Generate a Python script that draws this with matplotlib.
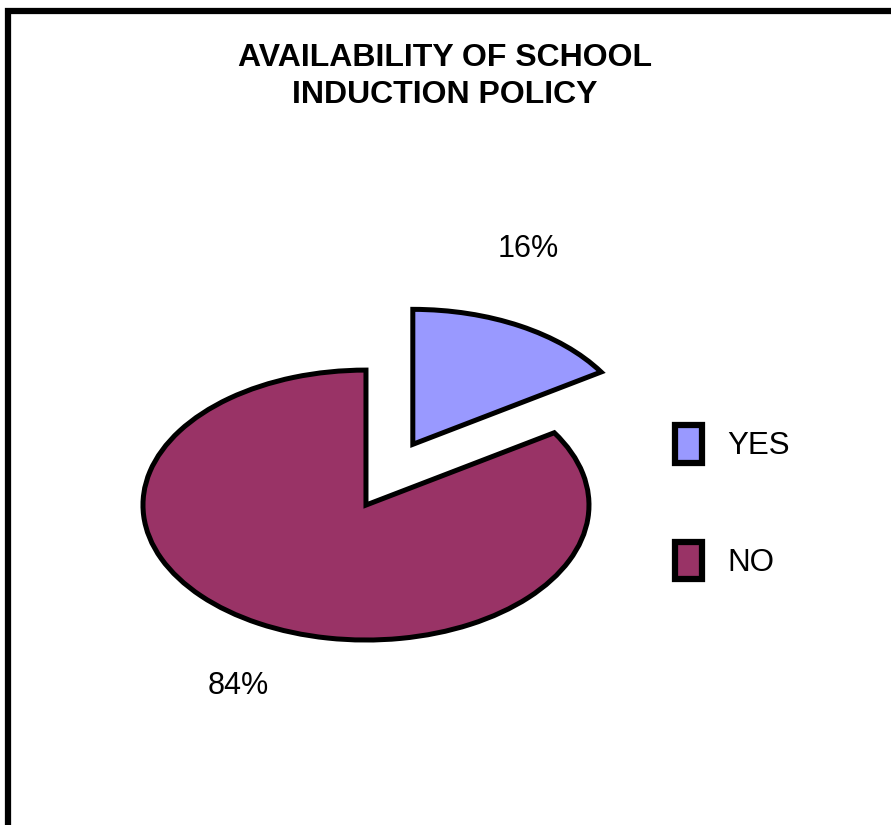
import matplotlib
matplotlib.use("Agg")
import matplotlib.pyplot as plt
from matplotlib.patches import Rectangle

# Data
categories = ["YES", "NO"]
values = [16, 84]
colors = ["#9999FF", "#993366"]

plt.rcParams['font.family'] = ['Liberation Sans', 'DejaVu Sans']

fig = plt.figure(figsize=(8.91, 8.25), dpi=100)

# pie squashed into an ellipse: equal data limits on a wide, short axes
ax = fig.add_axes([0.0979, 0.1833, 0.6257, 0.409])
wedges, _ = ax.pie(values, colors=colors, startangle=90, counterclock=False,
                   wedgeprops=dict(edgecolor="black", linewidth=3.6, joinstyle="miter"))
ax.set_aspect("auto")
ax.set_xlim(-1.25, 1.25)
ax.set_ylim(-1.25, 1.25)

# pull the YES slice out
wedges[0].set_center((0.21, 0.45))

# percentage labels
label_pos = [(0.726, 1.90), (-0.574, -1.34)]
for v, (x, y) in zip(values, label_pos):
    ax.text(x, y, "{}%".format(v), ha="center", va="center", fontsize=22)

fig.text(0.4995, 0.907, "AVAILABILITY OF SCHOOL\nINDUCTION POLICY",
         ha="center", va="center", fontsize=23, fontweight="bold", linespacing=1.3)

leg = fig.legend(wedges, categories, loc="center left", bbox_to_anchor=(0.758, 0.391),
                 frameon=False, fontsize=22.5, handlelength=0.85, handleheight=1.45,
                 handletextpad=0.8, labelspacing=2.55, borderpad=0, borderaxespad=0)
for h in leg.legend_handles:
    h.set_linewidth(4.5)

# chart border (only left and top edges fall inside the picture)
fig.patches.append(Rectangle((8 / 891, -0.1), 1.2, 1.1 - 11.5 / 825, transform=fig.transFigure,
                             fill=False, edgecolor="black", linewidth=4.5))

fig.savefig("out.png", dpi=100)
